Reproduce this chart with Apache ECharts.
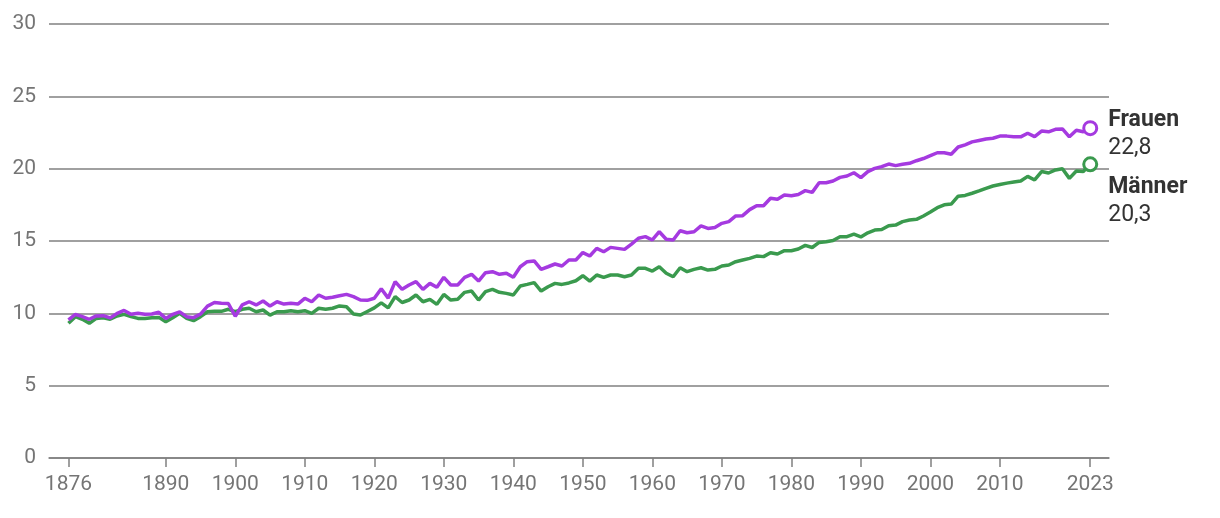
<!DOCTYPE html>
<html>
<head>
<meta charset="utf-8">
<script src="https://cdn.jsdelivr.net/npm/echarts@6/dist/echarts.min.js"></script>
<style>
html,body{margin:0;padding:0;background:#fff;}
#chart{width:1220px;height:518px;}
</style>
</head>
<body>
<div id="chart"></div>
<script>
const years = [1876,1877,1878,1879,1880,1881,1882,1883,1884,1885,1886,1887,1888,1889,1890,1891,1892,1893,1894,1895,1896,1897,1898,1899,
1900,1901,1902,1903,1904,1905,1906,1907,1908,1909,1910,1911,1912,1913,1914,1915,1916,1917,1918,1919,
1920,1921,1922,1923,1924,1925,1926,1927,1928,1929,1930,1931,1932,1933,1934,1935,1936,1937,1938,1939,
1940,1941,1942,1943,1944,1945,1946,1947,1948,1949,1950,1951,1952,1953,1954,1955,1956,1957,1958,1959,
1960,1961,1962,1963,1964,1965,1966,1967,1968,1969,1970,1971,1972,1973,1974,1975,1976,1977,1978,1979,
1980,1981,1982,1983,1984,1985,1986,1987,1988,1989,1990,1991,1992,1993,1994,1995,1996,1997,1998,1999,
2000,2001,2002,2003,2004,2005,2006,2007,2008,2009,2010,2011,2012,2013,2014,2015,2016,2017,2018,2019,
2020,2021,2022,2023];

const frauen = [9.55,9.93,9.77,9.59,9.82,9.84,9.68,10.0,10.2,9.93,10.0,9.93,9.95,10.07,9.65,9.93,10.1,9.77,9.7,9.95,10.5,10.75,10.7,10.68,
9.8,10.58,10.8,10.58,10.85,10.5,10.8,10.64,10.69,10.64,11.04,10.8,11.27,11.04,11.11,11.22,11.31,11.15,10.92,10.9,
11.04,11.7,11.05,12.19,11.66,11.96,12.19,11.66,12.07,11.8,12.49,11.96,11.96,12.49,12.7,12.23,12.81,12.88,12.7,12.77,
12.49,13.22,13.57,13.62,13.04,13.22,13.41,13.27,13.69,13.69,14.2,13.96,14.49,14.26,14.56,14.49,14.42,14.79,15.19,15.3,
15.07,15.64,15.12,15.07,15.71,15.57,15.64,16.04,15.87,15.94,16.22,16.34,16.73,16.75,17.17,17.44,17.44,17.95,17.88,18.18,
18.13,18.22,18.48,18.36,19.03,19.03,19.15,19.4,19.49,19.72,19.38,19.8,20.02,20.14,20.32,20.21,20.3,20.37,20.55,20.7,
20.9,21.1,21.1,21.0,21.5,21.65,21.85,21.95,22.05,22.1,22.25,22.25,22.2,22.2,22.45,22.22,22.6,22.55,22.72,22.75,
22.2,22.65,22.55,22.8];

const maenner = [9.31,9.77,9.59,9.31,9.65,9.7,9.59,9.82,9.93,9.77,9.65,9.65,9.7,9.72,9.42,9.7,10.0,9.65,9.49,9.77,10.11,10.14,10.14,10.28,
10.11,10.28,10.35,10.11,10.23,9.88,10.11,10.11,10.18,10.11,10.18,10.0,10.35,10.28,10.35,10.51,10.46,9.95,9.88,10.13,
10.38,10.72,10.38,11.15,10.75,10.92,11.27,10.8,10.97,10.62,11.31,10.92,10.97,11.45,11.54,10.92,11.5,11.66,11.45,11.38,
11.27,11.89,12.0,12.12,11.54,11.84,12.07,12.0,12.1,12.25,12.6,12.23,12.65,12.49,12.65,12.65,12.53,12.65,13.11,13.11,
12.92,13.22,12.77,12.53,13.15,12.88,13.04,13.15,12.99,13.04,13.27,13.34,13.57,13.69,13.8,13.96,13.92,14.19,14.1,14.33,
14.33,14.45,14.7,14.55,14.9,14.95,15.03,15.3,15.3,15.47,15.28,15.57,15.76,15.8,16.06,16.1,16.34,16.45,16.5,16.73,
17.0,17.3,17.5,17.55,18.1,18.15,18.3,18.46,18.64,18.8,18.9,19.0,19.08,19.15,19.47,19.22,19.8,19.7,19.91,20.0,
19.33,19.84,19.8,20.3];

const xTickYears = [1876,1890,1900,1910,1920,1930,1940,1950,1960,1970,1980,1990,2000,2010,2023];
const seriesNames = ['Frauen','Männer'];
const endLabels = ['22,8','20,3'];

const cPurple = '#a53ae0';
const cGreen = '#3a9a4e';
const font = 'Roboto, "Noto Sans", sans-serif';

function pairs(vals){ return years.map((y,i)=>[y, vals[i]]); }
function last(vals){ return [[years[years.length-1], vals[vals.length-1]]]; }

function endSeries(vals, name, label, color, offY){
  return {
    type:'scatter', data:last(vals), symbol:'circle', symbolSize:13, z:5,
    itemStyle:{color:'#fff', borderColor:color, borderWidth:3, opacity:1},
    label:{show:true, position:'right', distance:10, offset:[0,offY],
      formatter:'{n|'+name+'}\n{v|'+label+'}',
      rich:{
        n:{fontFamily:font, fontSize:23, fontWeight:'bold', color:'#333', lineHeight:28},
        v:{fontFamily:font, fontSize:23, color:'#333', lineHeight:28}
      }
    },
    emphasis:{disabled:true},
    silent:true
  };
}

const chart = echarts.init(document.getElementById('chart'), null, {renderer:'canvas'});
chart.setOption({
  animation:false,
  backgroundColor:'#fff',
  grid:{left:49, right:111, top:24, bottom:60, containLabel:false},
  xAxis:{
    type:'value', min:1873.2, max:2025.7,
    splitLine:{show:false},
    axisLine:{show:true, lineStyle:{color:'#808080', width:1.5}},
    axisTick:{show:true, customValues:xTickYears, length:9, lineStyle:{color:'#808080', width:1.5}},
    axisLabel:{customValues:xTickYears, margin:16, color:'#757575', fontSize:21, fontFamily:font, formatter:v=>String(v)}
  },
  yAxis:{
    type:'value', min:0, max:30, interval:5,
    axisLine:{show:false}, axisTick:{show:false},
    splitLine:{show:true, lineStyle:{color:'#808080', width:1.5}},
    axisLabel:{color:'#757575', fontSize:21, fontFamily:font, margin:13}
  },
  series:[
    {name:seriesNames[1], type:'line', data:pairs(maenner), showSymbol:false, lineStyle:{color:cGreen, width:3.5}, itemStyle:{color:cGreen}, z:2},
    {name:seriesNames[0], type:'line', data:pairs(frauen), showSymbol:false, lineStyle:{color:cPurple, width:3.5}, itemStyle:{color:cPurple}, z:3},
    endSeries(frauen, seriesNames[0], endLabels[0], cPurple, 6),
    endSeries(maenner, seriesNames[1], endLabels[1], cGreen, 37)
  ]
});
</script>
</body>
</html>
